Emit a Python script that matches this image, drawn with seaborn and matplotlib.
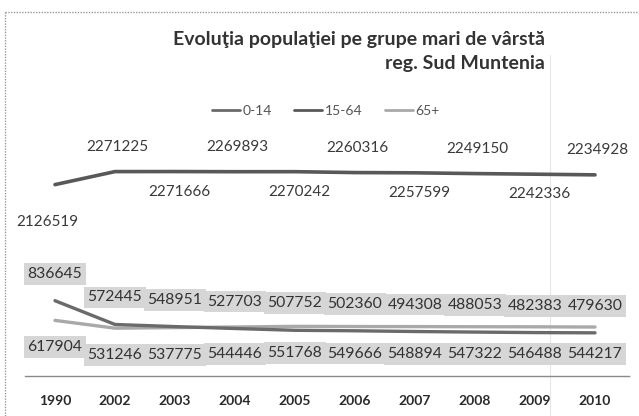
import numpy as np
import pandas as pd
import matplotlib
matplotlib.use("Agg")
import matplotlib.pyplot as plt
from matplotlib.lines import Line2D
import seaborn as sns

# date
ani = ["1990", "2002", "2003", "2004", "2005", "2006", "2007", "2008", "2009", "2010"]
grupa_0_14 = [836645, 572445, 548951, 527703, 507752, 502360, 494308, 488053, 482383, 479630]
grupa_15_64 = [2126519, 2271225, 2271666, 2269893, 2270242, 2260316, 2257599, 2249150, 2242336, 2234928]
grupa_65 = [617904, 531246, 537775, 544446, 551768, 549666, 548894, 547322, 546488, 544217]
grupe = ["0-14", "15-64", "65+"]

titlu = "Evoluţia populaţiei pe grupe mari de vârstă"
subtitlu = "reg. Sud Muntenia"

sns.set_theme(style="white")
plt.rcParams["font.family"] = ["Lato", "DejaVu Sans"]

df = pd.DataFrame({
    "poz": list(range(len(ani))) * 3,
    "an": ani * 3,
    "grupa": [g for g in grupe for _ in ani],
    "valoare": grupa_0_14 + grupa_15_64 + grupa_65,
})

culori = {"0-14": "#6a6a6a", "15-64": "#585858", "65+": "#a9a9a9"}
latimi = {"0-14": 2.4, "15-64": 2.6, "65+": 2.4}

W, H = 639, 416
fig = plt.figure(figsize=(W / 100, H / 100), dpi=100)
fig.patch.set_facecolor("white")

# chenar scanat si linia de pliere (in spate)
fig.add_artist(Line2D([5 / W, 5 / W], [0, 1 - 12 / H], color="#9a9a9a", lw=1,
                      ls=(0, (1, 1)), transform=fig.transFigure, zorder=0))
fig.add_artist(Line2D([5 / W, 1], [1 - 12 / H, 1 - 12 / H], color="#9a9a9a", lw=1,
                      ls=(0, (1, 1)), transform=fig.transFigure, zorder=0))
fig.add_artist(Line2D([550 / W, 550 / W], [0, 1 - 55 / H], color="#e6e6e6", lw=0.8,
                      transform=fig.transFigure, zorder=0))

ax = fig.add_axes([25 / W, (H - 376) / H, 605 / W, 234 / H])
ax.patch.set_alpha(0)

for g in ["65+", "0-14", "15-64"]:
    sub = df[df["grupa"] == g]
    sns.lineplot(data=sub, x="poz", y="valoare", color=culori[g], lw=latimi[g],
                 ax=ax, legend=False, solid_capstyle="round")

ax.set_xlim(-0.5, 9.583)
ax.set_ylim(0, 2.6e6)
ax.set_xticks(range(len(ani)))
ax.set_xticklabels(ani, fontsize=10, fontweight="bold", color="#2a2a2a")
ax.set_yticks([])
ax.set_xlabel("")
ax.set_ylabel("")
ax.tick_params(axis="x", length=0, pad=14)
for s in ["top", "left", "right"]:
    ax.spines[s].set_visible(False)
ax.spines["bottom"].set_color("#8a8a8a")
ax.spines["bottom"].set_linestyle((0, (1, 1)))
ax.spines["bottom"].set_linewidth(1.0)

# etichete 15-64 (alternativ deasupra / dedesubt)
for i, v in enumerate(grupa_15_64):
    if i == 0:
        dx, dy = -8, -37
    elif i % 2 == 1:
        dx, dy = 2, 25
    else:
        dx, dy = 4, -20
    ax.annotate(str(v), (i, v), xytext=(dx, dy), textcoords="offset pixels",
                ha="center", va="center", fontsize=11, color="#3a3a3a")

box = dict(boxstyle="square,pad=0.25", facecolor="#d6d6d6", edgecolor="none")
for i, v in enumerate(grupa_0_14):
    ax.annotate(str(v), (i, v), xytext=(0, 27), textcoords="offset pixels",
                ha="center", va="center", fontsize=11.3, color="#333333", bbox=box)
for i, v in enumerate(grupa_65):
    ax.annotate(str(v), (i, v), xytext=(0, -27), textcoords="offset pixels",
                ha="center", va="center", fontsize=11.3, color="#333333", bbox=box)

# titlu
fig.text(545 / W, 1 - 40 / H, titlu, ha="right", va="center", fontsize=14,
         fontweight="bold", color="#333333")
fig.text(545 / W, 1 - 64 / H, subtitlu, ha="right", va="center", fontsize=14,
         fontweight="bold", color="#333333")

# legenda
handles = [Line2D([0], [0], color=culori[g], lw=2) for g in grupe]
fig.legend(handles, grupe, loc="center", bbox_to_anchor=(326 / W, 1 - 111 / H),
           ncol=3, frameon=False, fontsize=10, handlelength=2.0,
           handletextpad=0.2, columnspacing=1.6, labelcolor="#555555")

fig.savefig("out.png", dpi=100, facecolor="white")
